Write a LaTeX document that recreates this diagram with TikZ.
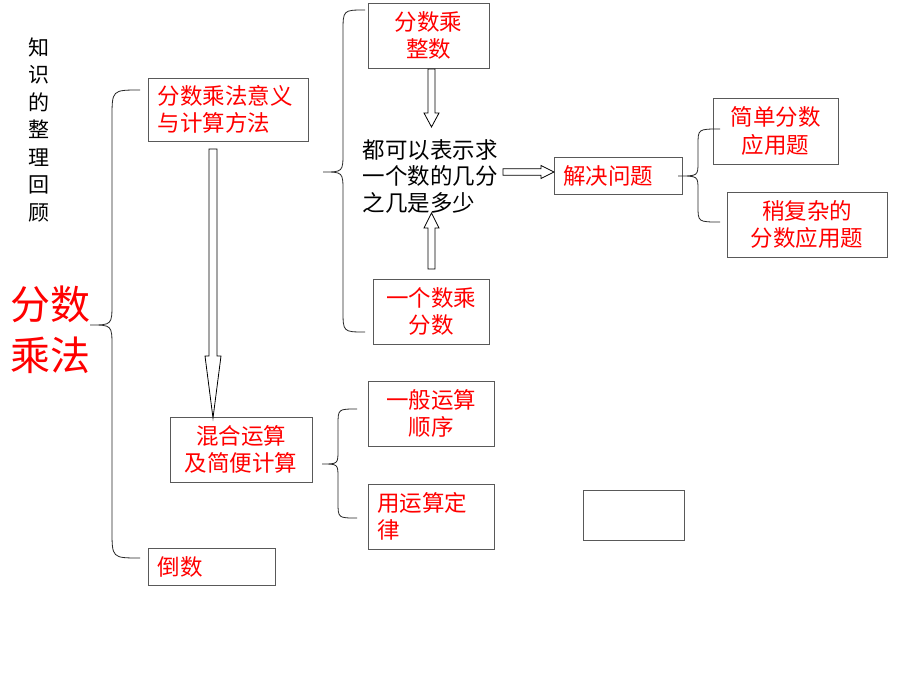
\documentclass[tikz,border=0pt]{standalone}
\usepackage{fontspec}
\setmainfont{Noto Sans CJK SC}
\definecolor{boxline}{gray}{0.35}
\begin{document}
\begin{tikzpicture}[x=1pt,y=-1pt,
  box/.style={draw=boxline, line width=0.9pt, inner sep=0pt, align=center,
    font=\fontsize{22.5}{27.5}\selectfont, text=red},
  lbox/.style={box, align=left},
  brace/.style={draw=black!85, line width=0.8pt},
  blockarrow/.style={draw=black, line width=0.8pt, fill=white, line join=miter}]
\fill[white] (0,0) rectangle (920,690);
\useasboundingbox (0,0) rectangle (920,690);

% titles
\node[align=center, font=\fontsize{21}{27.5}\selectfont] (title) at (39,130)
  {知\\识\\的\\整\\理\\回\\顾};
\node[align=center, text=red, font=\fontsize{40}{51}\selectfont] (main) at (50,330)
  {分数\\乘法};

% boxes
\node[lbox, minimum width=160pt, minimum height=63pt, text width=141pt] (A) at (228,109.5)
  {分数乘法意义\\与计算方法};
\node[box, minimum width=142pt, minimum height=65pt] (mix) at (241,449.5)
  {混合运算\\及简便计算};
\node[lbox, minimum width=127pt, minimum height=37pt, text width=108pt] (dao) at (211.5,566.5)
  {倒数};
\node[box, minimum width=121pt, minimum height=65pt] (b1) at (428.5,35.5)
  {分数乘\\整数};
\node[box, minimum width=116pt, minimum height=65pt] (b2) at (431,311.5)
  {一个数乘\\分数};
\node[lbox, minimum width=128pt, minimum height=37pt, text width=110pt] (solve) at (618,175.5)
  {解决问题};
\node[box, minimum width=125pt, minimum height=66pt] (s1) at (775.5,131)
  {简单分数\\应用题};
\node[box, minimum width=160pt, minimum height=65pt] (s2) at (807,224.5)
  {稍复杂的\\分数应用题};
\node[box, minimum width=126pt, minimum height=65pt] (m1) at (431,413.5)
  {一般运算\\顺序};
\node[lbox, minimum width=126pt, minimum height=65pt, text width=108pt] (m2) at (431,516.5)
  {用运算定\\律};
\node[box, minimum width=101pt, minimum height=50pt] (empty) at (633.5,515) {};

% middle text
\node[align=left, font=\fontsize{22.5}{26.5}\selectfont] (mid) at (430,176)
  {都可以表示求\\一个数的几分\\之几是多少};

% braces
\coordinate (t1) at (90,325);
\coordinate (t2) at (323,172);
\coordinate (t3) at (678,176);
\coordinate (t4) at (322,464);
\draw[brace] (140,90) .. controls (112,90) .. (112,118) -- (112,303)
  .. controls (112,325) .. (t1) .. controls (112,325) .. (112,347) -- (112,530)
  .. controls (112,558) .. (140,558);
\draw[brace] (365,10) .. controls (343,10) .. (343,32) -- (343,152)
  .. controls (343,172) .. (t2) .. controls (343,172) .. (343,192) -- (343,310)
  .. controls (343,332) .. (365,332);
\draw[brace] (720,129) .. controls (698,129) .. (698,145) -- (698,162)
  .. controls (698,176) .. (t3) .. controls (698,176) .. (698,190) -- (698,206)
  .. controls (698,222) .. (720,222);
\draw[brace] (357,409) .. controls (338,409) .. (338,425) -- (338,450)
  .. controls (338,464) .. (t4) .. controls (338,464) .. (338,478) -- (338,502)
  .. controls (338,518) .. (357,518);

% block arrows
\draw[blockarrow] (428,69) -- (435,69) -- (435,113) -- (439,113) -- (431.5,127)
  -- (424,113) -- (428,113) -- cycle;
\draw[blockarrow] (428,269) -- (435,269) -- (435,228) -- (439,228) -- (431.5,213)
  -- (424,228) -- (428,228) -- cycle;
\draw[blockarrow] (503,168.7) -- (541,168.7) -- (541,165.5) -- (554,172)
  -- (541,178.5) -- (541,175.3) -- (503,175.3) -- cycle;
\draw[blockarrow] (209,149) -- (217,149) -- (217,356) -- (221,356) -- (213,418)
  -- (205,356) -- (209,356) -- cycle;
\end{tikzpicture}
\end{document}
